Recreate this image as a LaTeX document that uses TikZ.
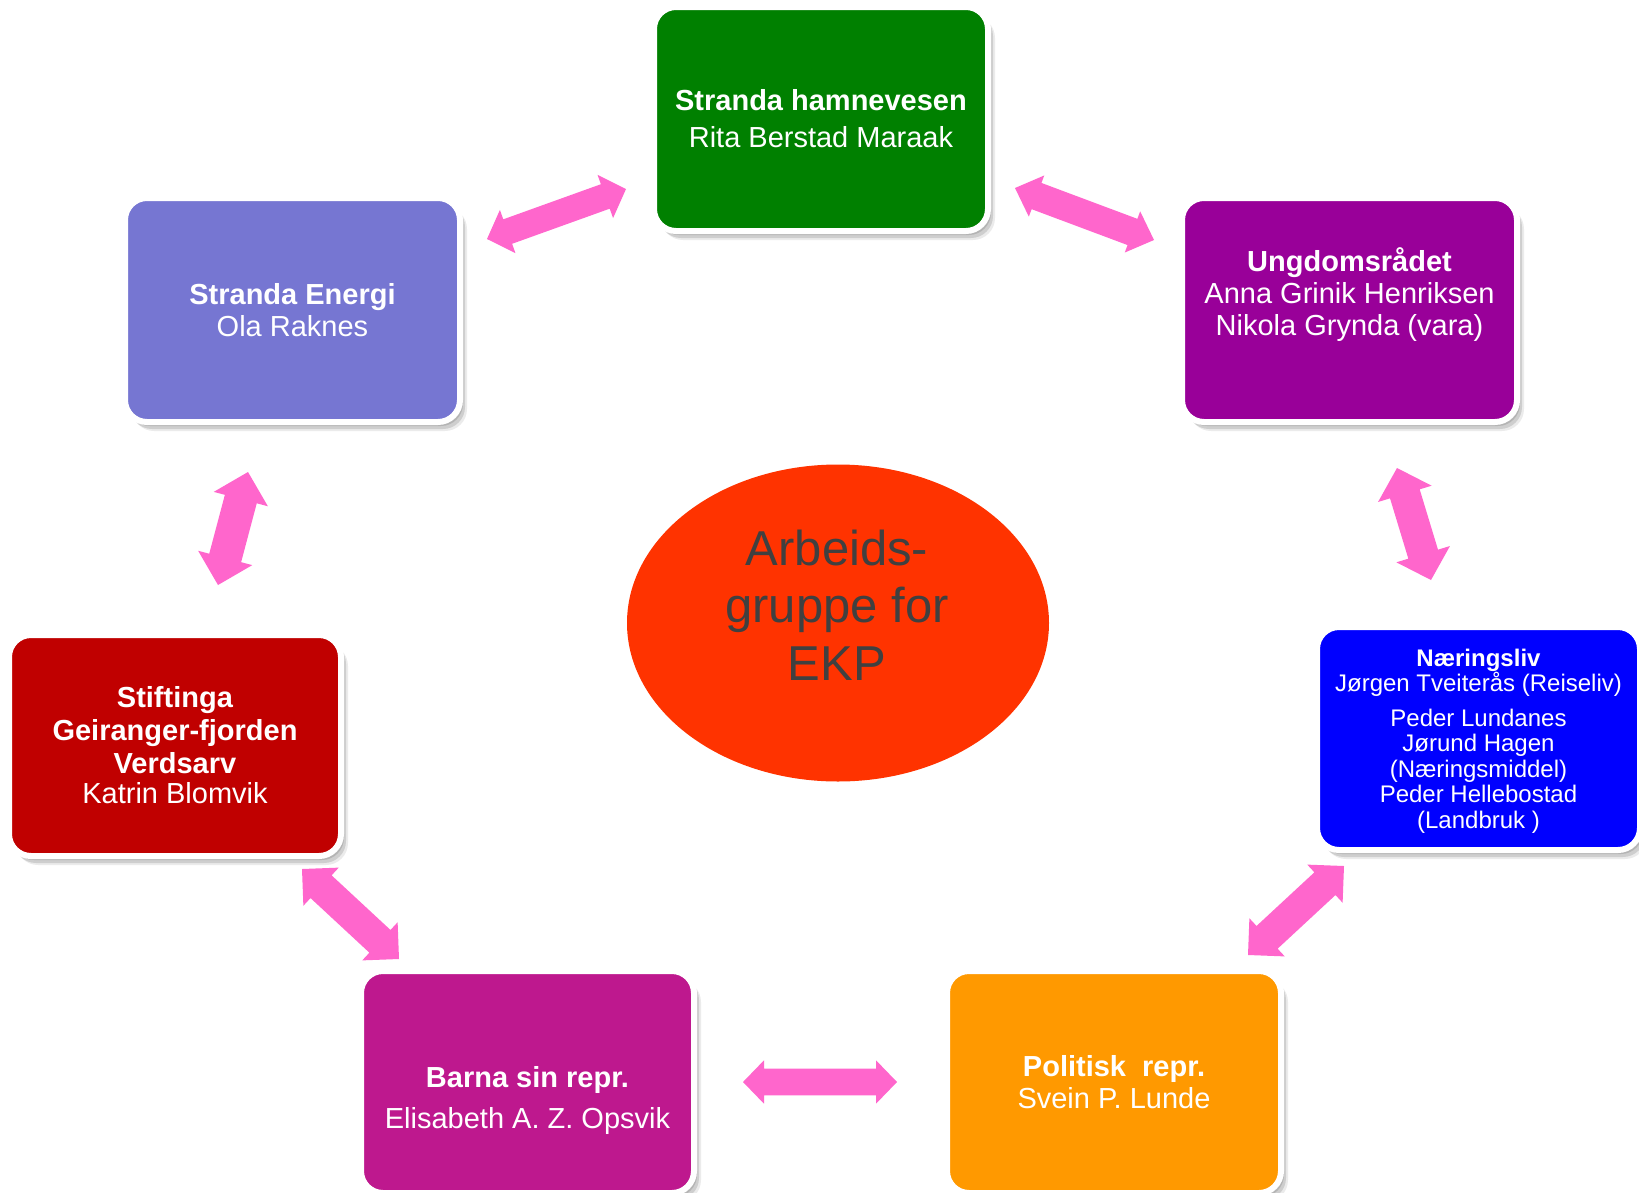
\documentclass[tikz,border=0pt]{standalone}
\usepackage{fontspec}
\setmainfont{Liberation Sans}
\usetikzlibrary{calc,shadows,shapes.geometric}
\definecolor{cgreen}{RGB}{0,128,0}
\definecolor{cenergi}{RGB}{118,118,210}
\definecolor{cungdom}{RGB}{153,0,153}
\definecolor{cnaering}{RGB}{0,0,255}
\definecolor{cstift}{RGB}{192,0,0}
\definecolor{cbarna}{RGB}{190,24,142}
\definecolor{cpolit}{RGB}{255,153,0}
\definecolor{cellipse}{RGB}{255,51,0}
\definecolor{carrow}{RGB}{255,102,204}
\definecolor{ctext}{RGB}{64,64,64}
% double arrow: #1 start tip, #2 end tip, #3 shaft half width, #4 head half width, #5 head length
\newcommand{\dblarr}[5]{%
  \fill[arrowfill] (#1)
   -- ($(#1)!#5pt!(#2)!#4pt!90:(#2)$)
   -- ($(#1)!#5pt!(#2)!#3pt!90:(#2)$)
   -- ($(#2)!#5pt!(#1)!#3pt!-90:(#1)$)
   -- ($(#2)!#5pt!(#1)!#4pt!-90:(#1)$)
   -- (#2)
   -- ($(#2)!#5pt!(#1)!#4pt!90:(#1)$)
   -- ($(#2)!#5pt!(#1)!#3pt!90:(#1)$)
   -- ($(#1)!#5pt!(#2)!#3pt!-90:(#2)$)
   -- ($(#1)!#5pt!(#2)!#4pt!-90:(#2)$)
   -- cycle;}
\begin{document}
\begin{tikzpicture}[x=1pt,y=-1pt,
  boxshape/.style={rectangle, rounded corners=22pt, draw=white, line width=6pt, inner sep=0pt,
     general shadow={fill=black, opacity=.12, shadow xshift=3pt, shadow yshift=-4pt},
     general shadow={fill=black, opacity=.12, shadow xshift=5pt, shadow yshift=-7pt},
     general shadow={fill=black, opacity=.08, shadow xshift=7pt, shadow yshift=-9pt}},
  boxtext/.style={text=white, align=center, anchor=base, inner sep=0pt, font=\fontsize{29}{33}\selectfont},
  smalltext/.style={boxtext, font=\fontsize{24}{25.5}\selectfont},
  centertext/.style={text=ctext, align=center, anchor=base, inner sep=0pt, font=\fontsize{49}{57.5}\selectfont},
  arrowfill/.style={fill=carrow},
]
\fill[white] (0,0) rectangle (1639,1192);
\useasboundingbox (0,0) rectangle (1639,1192);

% boxes
\node[boxshape, fill=cgreen,   minimum width=334pt, minimum height=224pt] (green)   at (821,119) {};
\node[boxshape, fill=cenergi,  minimum width=335pt, minimum height=224pt] (energi)  at (292.5,310) {};
\node[boxshape, fill=cungdom,  minimum width=335pt, minimum height=224pt] (ungdom)  at (1349.5,310) {};
\node[boxshape, fill=cnaering, minimum width=323pt, minimum height=223pt] (naering) at (1478.5,738.5) {};
\node[boxshape, fill=cstift,   minimum width=332pt, minimum height=221pt] (stift)   at (175,745.5) {};
\node[boxshape, fill=cbarna,   minimum width=333pt, minimum height=222pt] (barna)   at (527.5,1082) {};
\node[boxshape, fill=cpolit,   minimum width=334pt, minimum height=222pt] (polit)   at (1114,1082) {};

% centre ellipse
\node[ellipse, fill=cellipse, minimum width=422pt, minimum height=317pt, inner sep=0pt] (centre) at (838,623) {};

% texts (anchor = baseline of the last line)
\node[boxtext] (tgreen) at (821,147) {\textbf{Stranda hamnevesen}\\[4pt] Rita Berstad Maraak};
\node[boxtext] (tenergi) at (292.5,336) {\textbf{Stranda Energi}\\[-1pt] Ola Raknes};
\node[boxtext] (tungdom) at (1349.5,335) {\textbf{Ungdomsrådet}\\[-1pt] Anna Grinik Henriksen\\[-1pt] Nikola Grynda (vara)};
\node[smalltext] (tnaering) at (1478.5,828) {\textbf{Næringsliv}\\ Jørgen Tveiterås (Reiseliv)\\[9pt] Peder Lundanes\\ Jørund Hagen\\ (Næringsmiddel)\\ Peder Hellebostad\\ (Landbruk )};
\node[boxtext] (tstift) at (175,803) {\textbf{Stiftinga}\\ \textbf{Geiranger-fjorden}\\ \textbf{Verdsarv}\\[-3pt] Katrin Blomvik};
\node[boxtext] (tbarna) at (527.5,1128) {\textbf{Barna sin repr.}\\[8pt] Elisabeth A. Z. Opsvik};
\node[boxtext] (tpolit) at (1114,1108) {\textbf{Politisk\ \ repr.}\\[-1pt] Svein P. Lunde};
\node[centertext] (tcentre) at (837,680) {Arbeids-\\gruppe for\\EKP};

% arrow end points
\coordinate (a1s) at (487,239);  \coordinate (a1e) at (626,189);
\coordinate (a2s) at (1015,188); \coordinate (a2e) at (1154,240);
\coordinate (a3s) at (248,472);  \coordinate (a3e) at (218,585);
\coordinate (a4s) at (1397,468); \coordinate (a4e) at (1431,580);
\coordinate (a5s) at (302,869);  \coordinate (a5e) at (399,959);
\coordinate (a6s) at (1344,866); \coordinate (a6e) at (1248,955);
\coordinate (a7s) at (743,1082); \coordinate (a7e) at (897,1082);

\dblarr{a1s}{a1e}{13}{23}{22}
\dblarr{a2s}{a2e}{14}{22}{23}
\dblarr{a3s}{a3e}{16.5}{28}{28}
\dblarr{a4s}{a4e}{15.5}{28}{27}
\dblarr{a5s}{a5e}{15.5}{26}{26}
\dblarr{a6s}{a6e}{15.5}{26}{26}
\dblarr{a7s}{a7e}{13.3}{21.7}{21}
\end{tikzpicture}
\end{document}
